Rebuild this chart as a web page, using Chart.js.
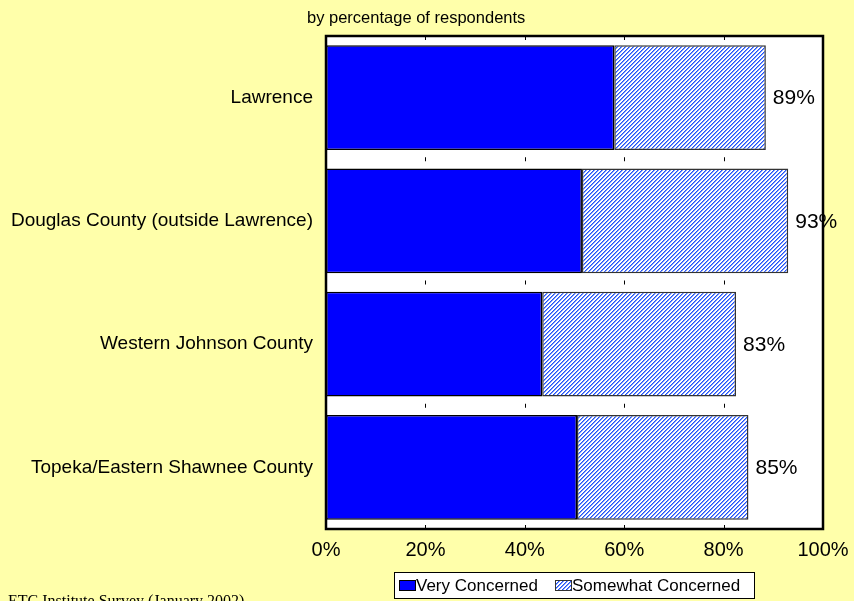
<!DOCTYPE html>
<html>
<head>
<meta charset="utf-8">
<script src="https://cdn.jsdelivr.net/npm/chart.js@4"></script>
<style>
  html, body { margin: 0; padding: 0; background: #FFFFAA; }
  #wrap { width: 854px; height: 601px; }
</style>
</head>
<body>
<div id="wrap"><canvas id="c" width="854" height="601"></canvas></div>
<script>
// Datos del grafico
const categories = ['Lawrence', 'Douglas County (outside Lawrence)', 'Western Johnson County', 'Topeka/Eastern Shawnee County'];
const veryConcerned = [58, 51.5, 43.5, 50.5];
const somewhatConcerned = [30.5, 41.5, 39, 34.5];
const totalLabels = [89, 93, 83, 85];
const xTicks = [0, 20, 40, 60, 80, 100];
const seriesNames = ['Very Concerned', 'Somewhat Concerned'];
const subtitle = 'by percentage of respondents';
const footer = 'ETC Institute Survey (January 2002)';

const FONT = "'Liberation Sans', Arial, sans-serif";
Chart.defaults.font.family = FONT;

// patron rayado para "Somewhat Concerned" (pixeles nitidos)
function makeHatch() {
    const pc = document.createElement('canvas');
    pc.width = 4; pc.height = 4;
    const p = pc.getContext('2d');
    p.fillStyle = '#ffffff';
    p.fillRect(0, 0, 4, 4);
    for (let y = 0; y < 4; y++) {
        p.fillStyle = '#1f50ff';
        p.fillRect((3 - y + 4) % 4, y, 1, 1);
        p.fillStyle = '#7f9cf5';
        p.fillRect((4 - y + 4) % 4, y, 1, 1);
    }
    return p.createPattern(pc, 'repeat');
}
const ctx = document.getElementById('c').getContext('2d');
const hatch = makeHatch();

// Decoracion: fondo, marco, marcas, etiquetas, leyenda y textos
const decor = {
    id: 'decor',
    beforeDraw(chart) {
        const c = chart.ctx, a = chart.chartArea;
        c.save();
        c.fillStyle = '#FFFFAA';
        c.fillRect(0, 0, chart.width, chart.height);
        c.fillStyle = '#ffffff';
        c.fillRect(a.left, a.top, a.right - a.left, a.bottom - a.top);
        c.restore();
    },
    afterDatasetsDraw(chart) {
        const c = chart.ctx, a = chart.chartArea;
        const xs = chart.scales.x, ys = chart.scales.y;
        c.save();

        // marcas cortas en los huecos
        c.strokeStyle = '#000';
        c.lineWidth = 1;
        const inner = xTicks.filter(t => t > 0 && t < 100);
        const gapYs = [];
        for (let i = 0; i < categories.length - 1; i++) {
            gapYs.push((ys.getPixelForValue(i) + ys.getPixelForValue(i + 1)) / 2);
        }
        inner.forEach(t => {
            const x = Math.round(xs.getPixelForValue(t)) + 0.5;
            c.beginPath();
            c.moveTo(x, a.top); c.lineTo(x, a.top + 4);
            c.moveTo(x, a.bottom - 4); c.lineTo(x, a.bottom);
            gapYs.forEach(g => { c.moveTo(x, g - 2); c.lineTo(x, g + 2); });
            c.stroke();
        });

        // marco del area
        c.lineWidth = 2.5;
        c.strokeStyle = '#000';
        c.strokeRect(a.left, a.top, a.right - a.left, a.bottom - a.top);

        // totales
        c.fillStyle = '#000';
        c.font = '21px ' + FONT;
        c.textAlign = 'left';
        c.textBaseline = 'middle';
        totalLabels.forEach((v, i) => {
            const end = xs.getPixelForValue(veryConcerned[i] + somewhatConcerned[i]);
            c.fillText(v + '%', end + 7, ys.getPixelForValue(i) + 1);
        });

        // subtitulo
        c.font = '16.5px ' + FONT;
        c.textBaseline = 'alphabetic';
        c.fillText(subtitle, 307, 23);

        // leyenda
        c.fillStyle = '#ffffff';
        c.fillRect(394.5, 572.5, 360, 26);
        c.lineWidth = 1;
        c.strokeStyle = '#000';
        c.strokeRect(394.5, 572.5, 360, 26);
        c.fillStyle = '#0000ff';
        c.fillRect(399.5, 580.5, 16, 10);
        c.strokeRect(399.5, 580.5, 16, 10);
        c.fillStyle = hatch;
        c.fillRect(555.5, 580.5, 16, 10);
        c.strokeStyle = '#333';
        c.strokeRect(555.5, 580.5, 16, 10);
        c.fillStyle = '#000';
        c.font = '17px ' + FONT;
        c.textBaseline = 'middle';
        c.fillText(seriesNames[0], 416, 586);
        c.fillText(seriesNames[1], 572, 586);

        // pie
        c.font = '16px "Liberation Serif", "Times New Roman", serif';
        c.textBaseline = 'alphabetic';
        c.fillText(footer, 8, 606);
        c.restore();
    }
};

new Chart(ctx, {
    type: 'bar',
    data: {
        labels: categories,
        datasets: [
            {
                label: seriesNames[0],
                data: veryConcerned,
                backgroundColor: '#0000ff',
                borderColor: '#000000',
                borderWidth: 1.5,
                borderSkipped: false,
                categoryPercentage: 0.85,
                barPercentage: 1
            },
            {
                label: seriesNames[1],
                data: somewhatConcerned,
                backgroundColor: hatch,
                borderColor: '#333333',
                borderWidth: 1.5,
                borderSkipped: false,
                categoryPercentage: 0.85,
                barPercentage: 1
            }
        ]
    },
    options: {
        indexAxis: 'y',
        responsive: false,
        animation: false,
        layout: { padding: { top: 36, right: 31, bottom: 32, left: 0 } },
        scales: {
            x: {
                stacked: true,
                min: 0,
                max: 100,
                afterBuildTicks: s => { s.ticks = xTicks.map(v => ({ value: v })); },
                afterFit: s => { s.height = 40; s.paddingLeft = 0; s.paddingRight = 0; },
                grid: { display: false, drawTicks: false },
                border: { display: false },
                ticks: {
                    color: '#000',
                    font: { size: 20 },
                    padding: 9,
                    maxRotation: 0,
                    callback: v => v + '%'
                }
            },
            y: {
                stacked: true,
                afterFit: s => { s.width = 326; },
                grid: { display: false, drawTicks: false },
                border: { display: false },
                ticks: {
                    color: '#000',
                    font: { size: 19 },
                    padding: 13
                }
            }
        },
        plugins: {
            legend: { display: false },
            title: { display: false },
            tooltip: { enabled: false }
        }
    },
    plugins: [decor]
});
</script>
</body>
</html>
